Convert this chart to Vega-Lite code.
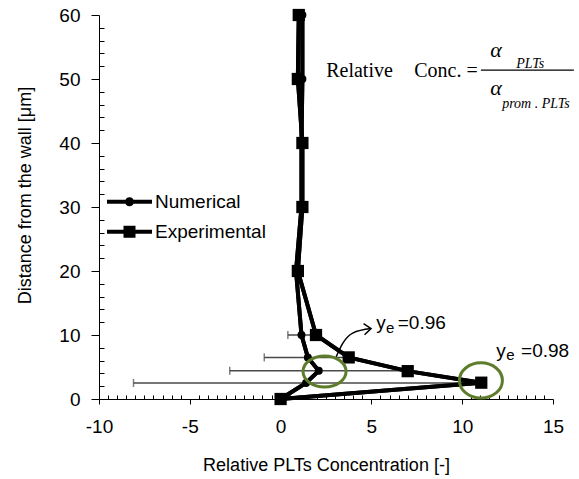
{
  "$schema": "https://vega.github.io/schema/vega-lite/v6.json",
  "width": 454,
  "height": 384,
  "autosize": {"type": "none"},
  "padding": {"left": 99, "top": 15, "right": 26, "bottom": 80},
  "background": "white",
  "config": {"view": {"stroke": null}, "axis": {"labelOverlap": false, "labelFlush": false, "grid": false}},
  "datasets": {
    "profiles": [
      {"series": "Numerical", "distance": 0, "conc": 0},
      {"series": "Numerical", "distance": 2.5, "conc": 1.4},
      {"series": "Numerical", "distance": 4.4, "conc": 2.1},
      {"series": "Numerical", "distance": 6.5, "conc": 1.5},
      {"series": "Numerical", "distance": 10, "conc": 1.15},
      {"series": "Numerical", "distance": 20, "conc": 0.85},
      {"series": "Numerical", "distance": 30, "conc": 1.15},
      {"series": "Numerical", "distance": 40, "conc": 1.15},
      {"series": "Numerical", "distance": 50, "conc": 1.2},
      {"series": "Numerical", "distance": 60, "conc": 1.2},
      {"series": "Experimental", "distance": 0, "conc": 0},
      {"series": "Experimental", "distance": 2.55, "conc": 11.05},
      {"series": "Experimental", "distance": 4.35, "conc": 7.0},
      {"series": "Experimental", "distance": 6.5, "conc": 3.75},
      {"series": "Experimental", "distance": 10, "conc": 1.95},
      {"series": "Experimental", "distance": 20, "conc": 0.95},
      {"series": "Experimental", "distance": 30, "conc": 1.2},
      {"series": "Experimental", "distance": 40, "conc": 1.2},
      {"series": "Experimental", "distance": 50, "conc": 0.95},
      {"series": "Experimental", "distance": 60, "conc": 1.0}
    ],
    "errors": [
      {"distance": 2.5, "low": -8.1, "high": 10.9},
      {"distance": 4.4, "low": -2.8, "high": 7.0},
      {"distance": 6.5, "low": -0.9, "high": 3.9},
      {"distance": 10, "low": 0.4, "high": 1.9}
    ]
  },
  "layer": [
    {
      "data": {"name": "profiles"},
      "mark": {"type": "line", "color": "black", "strokeWidth": 4},
      "encoding": {
        "x": {"field": "conc", "type": "quantitative", "scale": {"domain": [-10, 15], "nice": false, "zero": false},
          "title": "Relative PLTs Concentration [-]",
          "axis": {
            "values": [-10,-9.5,-9,-8.5,-8,-7.5,-7,-6.5,-6,-5.5,-5,-4.5,-4,-3.5,-3,-2.5,-2,-1.5,-1,-0.5,0,0.5,1,1.5,2,2.5,3,3.5,4,4.5,5,5.5,6,6.5,7,7.5,8,8.5,9,9.5,10,10.5,11,11.5,12,12.5,13,13.5,14,14.5,15],
            "tickCount": 500,
            "labelExpr": "datum.value % 5 === 0 ? '' + datum.value : ''",
            "tickSize": {"condition": {"test": "datum.value % 5 === 0", "value": 5}, "value": -4},
            "labelOverlap": false, "labelFlush": false, "grid": false,
            "domainColor": "black", "tickColor": "black", "labelColor": "black",
            "labelFont": "Liberation Sans", "labelFontSize": 19, "labelPadding": 13,
            "titleFont": "Liberation Sans", "titleFontSize": 18, "titleFontWeight": "normal", "titleColor": "black", "titlePadding": 20
          }
        },
        "y": {"field": "distance", "type": "quantitative", "scale": {"domain": [0, 60], "nice": false},
          "title": "Distance from the wall [μm]",
          "axis": {
            "values": [0,2,4,6,8,10,12,14,16,18,20,22,24,26,28,30,32,34,36,38,40,42,44,46,48,50,52,54,56,58,60],
            "tickCount": 500,
            "labelExpr": "datum.value % 10 === 0 ? '' + datum.value : ''",
            "tickSize": {"condition": {"test": "datum.value % 10 === 0", "value": 8}, "value": -5},
            "labelOverlap": false, "labelFlush": false, "grid": false,
            "domainColor": "black", "tickColor": "black", "labelColor": "black",
            "labelFont": "Liberation Sans", "labelFontSize": 19, "labelPadding": 11,
            "titleFont": "Liberation Sans", "titleFontSize": 18, "titleFontWeight": "normal", "titleColor": "black",
            "titlePadding": 24, "titleY": 180
          }
        },
        "detail": {"field": "series"},
        "order": {"field": "distance", "type": "quantitative"}
      }
    },
    {
      "data": {"name": "errors"},
      "mark": {"type": "errorbar", "color": "#4a4a4a", "thickness": 1.5, "ticks": {"size": 8, "color": "#4a4a4a", "thickness": 1.5}},
      "encoding": {
        "x": {"field": "low", "type": "quantitative", "title": "Relative PLTs Concentration [-]"},
        "x2": {"field": "high"},
        "y": {"field": "distance", "type": "quantitative", "title": "Distance from the wall [μm]"}
      }
    },
    {
      "data": {"name": "profiles"},
      "mark": {"type": "line", "color": "black", "strokeWidth": 4},
      "encoding": {
        "x": {"field": "conc", "type": "quantitative"},
        "y": {"field": "distance", "type": "quantitative"},
        "detail": {"field": "series"},
        "order": {"field": "distance", "type": "quantitative"}
      }
    },
    {
      "data": {"name": "profiles"},
      "transform": [{"filter": "datum.series === 'Numerical'"}],
      "mark": {"type": "point", "filled": true, "color": "black", "opacity": 1, "size": 64, "shape": "circle"},
      "encoding": {
        "x": {"field": "conc", "type": "quantitative"},
        "y": {"field": "distance", "type": "quantitative"}
      }
    },
    {
      "data": {"name": "profiles"},
      "transform": [{"filter": "datum.series === 'Experimental'"}],
      "mark": {"type": "point", "filled": true, "color": "black", "opacity": 1, "size": 150, "shape": "square"},
      "encoding": {
        "x": {"field": "conc", "type": "quantitative"},
        "y": {"field": "distance", "type": "quantitative"}
      }
    },
    {
      "data": {"name": "profiles"},
      "mark": {"type": "point", "filled": true, "color": "black", "size": 0},
      "encoding": {
        "x": {"field": "conc", "type": "quantitative"},
        "y": {"field": "distance", "type": "quantitative"},
        "shape": {"field": "series", "type": "nominal",
          "scale": {"domain": ["Numerical", "Experimental"], "range": [
            "M-2.25,-0.2L2.25,-0.2L2.25,0.2L-2.25,0.2Z M-0.45,0A0.45,0.45 0 1,1 0.45,0A0.45,0.45 0 1,1 -0.45,0Z",
            "M-2.25,-0.2L2.25,-0.2L2.25,0.2L-2.25,0.2Z M-0.6,-0.6L0.6,-0.6L0.6,0.6L-0.6,0.6Z"]},
          "legend": {
            "title": null, "orient": "none", "legendX": 20.5, "legendY": 176.7, "padding": 0,
            "symbolSize": 400, "rowPadding": 10, "labelOffset": 15.5,
            "labelFont": "Liberation Sans", "labelFontSize": 19, "labelColor": "black",
            "symbolFillColor": "black", "symbolStrokeWidth": 0, "symbolOpacity": 1
          }
        }
      }
    },
    {
      "data": {"values": [{"conc": 2.42, "distance": 4.3}]},
      "mark": {"type": "point", "filled": false, "color": "#5e7d2c", "strokeWidth": 3, "size": 1849, "shape": "M-1,0A1,0.72 0 1,1 1,0A1,0.72 0 1,1 -1,0Z", "opacity": 1},
      "encoding": {"x": {"field": "conc", "type": "quantitative"}, "y": {"field": "distance", "type": "quantitative"}}
    },
    {
      "data": {"values": [{"conc": 11.03, "distance": 2.9}]},
      "mark": {"type": "point", "filled": false, "color": "#5e7d2c", "strokeWidth": 3, "size": 1849, "shape": "M-1,0A1,0.82 0 1,1 1,0A1,0.82 0 1,1 -1,0Z", "opacity": 1},
      "encoding": {"x": {"field": "conc", "type": "quantitative"}, "y": {"field": "distance", "type": "quantitative"}}
    },
    {
      "data": {"values": [
        {"conc": 3.06, "distance": 6.6, "o": 1},
        {"conc": 3.42, "distance": 8.7, "o": 2},
        {"conc": 3.97, "distance": 10.3, "o": 3},
        {"conc": 4.98, "distance": 11.0, "o": 4}
      ]},
      "mark": {"type": "line", "color": "black", "strokeWidth": 1.5, "interpolate": "monotone"},
      "encoding": {"x": {"field": "conc", "type": "quantitative"}, "y": {"field": "distance", "type": "quantitative"}, "order": {"field": "o", "type": "quantitative"}}
    },
    {
      "data": {"values": [{"conc": 4.98, "distance": 11.0}]},
      "mark": {"type": "point", "filled": false, "color": "black", "strokeWidth": 1.5, "size": 196, "shape": "M-1,-0.8L0,0L-1,0.8", "angle": -5, "opacity": 1},
      "encoding": {"x": {"field": "conc", "type": "quantitative"}, "y": {"field": "distance", "type": "quantitative"}}
    },
    {
      "data": {"values": [
        {"conc": 5.27, "distance": 10.94, "text": "y"},
        {"conc": 6.45, "distance": 10.94, "text": "=0.96"},
        {"conc": 11.87, "distance": 6.56, "text": "y"},
        {"conc": 13.24, "distance": 6.56, "text": "=0.98"}
      ]},
      "mark": {"type": "text", "font": "Liberation Sans", "fontSize": 19, "align": "left", "baseline": "alphabetic", "color": "black"},
      "encoding": {"x": {"field": "conc", "type": "quantitative"}, "y": {"field": "distance", "type": "quantitative"}, "text": {"field": "text"}}
    },
    {
      "data": {"values": [
        {"conc": 5.8, "distance": 10.3, "text": "e"},
        {"conc": 12.42, "distance": 6.1, "text": "e"}
      ]},
      "mark": {"type": "text", "font": "Liberation Sans", "fontSize": 15, "align": "left", "baseline": "alphabetic", "color": "black"},
      "encoding": {"x": {"field": "conc", "type": "quantitative"}, "y": {"field": "distance", "type": "quantitative"}, "text": {"field": "text"}}
    },
    {
      "data": {"values": [
        {"conc": 2.51, "distance": 50.3, "text": "Relative"},
        {"conc": 7.36, "distance": 50.3, "text": "Conc. ="}
      ]},
      "mark": {"type": "text", "font": "Liberation Serif", "fontSize": 20, "align": "left", "baseline": "alphabetic", "color": "black"},
      "encoding": {"x": {"field": "conc", "type": "quantitative"}, "y": {"field": "distance", "type": "quantitative"}, "text": {"field": "text"}}
    },
    {
      "data": {"values": [
        {"conc": 11.54, "distance": 53.4, "text": "α"},
        {"conc": 11.54, "distance": 47.5, "text": "α"}
      ]},
      "mark": {"type": "text", "font": "Liberation Serif", "fontSize": 22, "fontStyle": "italic", "align": "left", "baseline": "alphabetic", "color": "black"},
      "encoding": {"x": {"field": "conc", "type": "quantitative"}, "y": {"field": "distance", "type": "quantitative"}, "text": {"field": "text"}}
    },
    {
      "data": {"values": [
        {"conc": 12.97, "distance": 51.7, "text": "PLTs"},
        {"conc": 12.2, "distance": 45.4, "text": "prom . PLTs"}
      ]},
      "mark": {"type": "text", "font": "Liberation Serif", "fontSize": 14, "fontStyle": "italic", "align": "left", "baseline": "alphabetic", "color": "black"},
      "encoding": {"x": {"field": "conc", "type": "quantitative"}, "y": {"field": "distance", "type": "quantitative"}, "text": {"field": "text"}}
    },
    {
      "data": {"values": [{"start": 11.03, "end": 16.15, "distance": 51.4}]},
      "mark": {"type": "rule", "color": "black", "strokeWidth": 1.2},
      "encoding": {"x": {"field": "start", "type": "quantitative"}, "x2": {"field": "end"}, "y": {"field": "distance", "type": "quantitative"}}
    }
  ]
}
